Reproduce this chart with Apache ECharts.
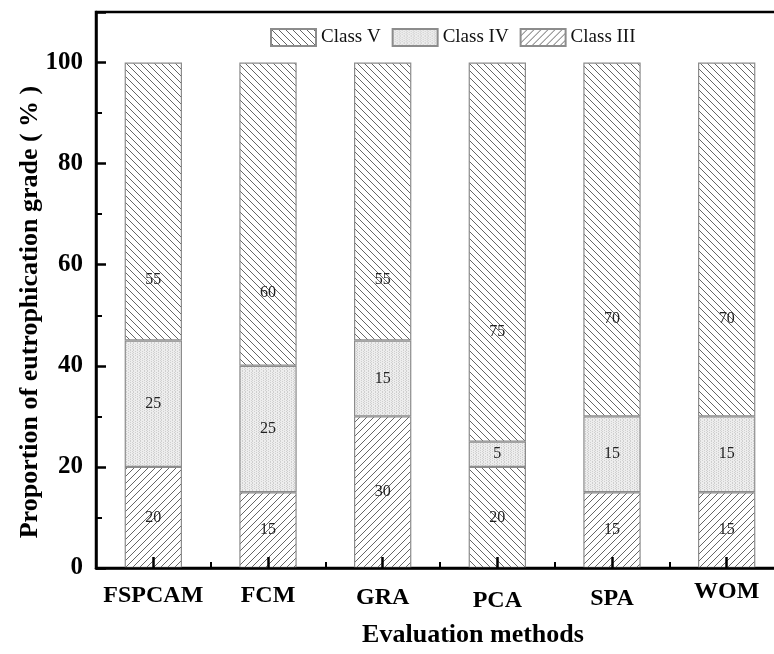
<!DOCTYPE html>
<html>
<head>
<meta charset="utf-8">
<script src="https://cdn.jsdelivr.net/npm/echarts@6/dist/echarts.min.js"></script>
<style>
html,body{margin:0;padding:0;background:#fff;}
#main{width:774px;height:654px;}
</style>
</head>
<body>
<div id="main"></div>
<script>
const categories = ['FSPCAM', 'FCM', 'GRA', 'PCA', 'SPA', 'WOM'];
const classIII = [20, 15, 30, 20, 15, 15];
const classIV = [25, 25, 15, 5, 15, 15];
const classV = [55, 60, 55, 75, 70, 70];
const yTicks = [0, 20, 40, 60, 80, 100];

function makePattern(kind) {
  const s = 7;
  const c = document.createElement('canvas');
  c.width = s; c.height = s;
  const ctx = c.getContext('2d');
  if (kind === 'dots') {
    ctx.fillStyle = '#ededed'; ctx.fillRect(0, 0, s, s);
    ctx.fillStyle = '#cfcfcf';
    for (let x = 0; x < s; x += 2) for (let y = (x / 2) % 2; y < s; y += 2) ctx.fillRect(x, y, 1, 1);
    return { image: c, repeat: 'repeat' };
  }
  ctx.fillStyle = '#ffffff'; ctx.fillRect(0, 0, s, s);
  ctx.strokeStyle = '#555555'; ctx.lineWidth = 0.9;
  ctx.beginPath();
  for (let k = -1; k <= 1; k++) {
    if (kind === 'back') { ctx.moveTo(-1, -1 + k * s); ctx.lineTo(s + 1, s + 1 + k * s); }
    else { ctx.moveTo(-1, s + 1 + k * s); ctx.lineTo(s + 1, -1 + k * s); }
  }
  ctx.stroke();
  return { image: c, repeat: 'repeat' };
}

const backPat = makePattern('back');
const fwdPat = makePattern('fwd');
const dotPat = makePattern('dots');

const font = 'Liberation Serif';
const borderStyle = { borderColor: '#8c8c8c', borderWidth: 1.2 };
const classVLabelY = ['78%', '76%', '78%', '71%', '72.5%', '72.5%'];
const xLabelPad = [4, 4, 6, 9, 7, 0];

const labelStyle = { show: true, fontFamily: font, fontSize: 16, color: '#222' };

const chart = echarts.init(document.getElementById('main'));
chart.setOption({
  animation: false,
  backgroundColor: '#fff',
  grid: { left: 96, top: 12, width: 688, height: 556, outerBoundsMode: 'none', containLabel: false, show: true, borderColor: '#000', borderWidth: 2.5, backgroundColor: 'transparent' },
  legend: {
    data: ['Class V', 'Class IV', 'Class III'],
    left: 270, top: 28, padding: 0, itemWidth: 45, itemHeight: 17, itemGap: 11, icon: 'rect',
    textStyle: { fontFamily: font, fontSize: 19, color: '#111' }
  },
  xAxis: [{
    type: 'category', data: categories, z: 10,
    axisLine: { lineStyle: { color: '#000', width: 2.5 } },
    axisTick: { show: true, inside: true, alignWithLabel: true, length: 11, lineStyle: { color: '#000', width: 2.5 } },
    axisLabel: {
      margin: 12, color: '#000',
      formatter: (v, i) => '{l' + i + '|' + v + '}',
      rich: Object.fromEntries(xLabelPad.map((p, i) => ['l' + i, { fontFamily: font, fontSize: 24, fontWeight: 'bold', color: '#000', padding: [p, 0, 0, 0] }]))
    },
    name: 'Evaluation methods', nameLocation: 'middle', nameGap: 54,
    nameTextStyle: { fontFamily: font, fontSize: 26, fontWeight: 'bold', color: '#000', padding: [0, 0, 0, 66] }
  }, {
    type: 'category', data: categories, position: 'bottom', z: 10,
    axisLine: { show: false },
    axisTick: { show: true, inside: true, length: 6, lineStyle: { color: '#000', width: 2 } },
    axisLabel: { show: false }
  }],
  yAxis: {
    type: 'value', min: yTicks[0], max: 110, interval: 20, z: 10,
    axisLine: { show: true, lineStyle: { color: '#000', width: 2.5 } },
    axisTick: { show: true, inside: true, length: 10, lineStyle: { color: '#000', width: 2.5 } },
    minorTick: { show: true, splitNumber: 2, length: 6, lineStyle: { color: '#000', width: 2 } },
    splitLine: { show: false },
    axisLabel: {
      margin: 13, showMaxLabel: false, fontFamily: font, fontSize: 25, fontWeight: 'bold', color: '#000',
      formatter: v => (yTicks.indexOf(v) >= 0 ? String(v) : '')
    },
    name: 'Proportion of eutrophication grade ( % )', nameLocation: 'middle', nameGap: 53, nameRotate: 90,
    nameMoveOverlap: false,
    nameTextStyle: { fontFamily: font, fontSize: 26, fontWeight: 'bold', color: '#000', padding: [0, 44, 0, 0] }
  },
  series: [
    {
      name: 'Class III', type: 'bar', stack: 'total', barWidth: '50%',
      itemStyle: Object.assign({ color: fwdPat }, borderStyle),
      label: Object.assign({ position: 'inside' }, labelStyle),
      data: classIII.map((v, i) => i === 3 ? { value: v, itemStyle: { color: backPat } } : v)
    },
    {
      name: 'Class IV', type: 'bar', stack: 'total', barWidth: '50%',
      itemStyle: Object.assign({ color: dotPat }, borderStyle),
      label: Object.assign({ position: 'inside' }, labelStyle),
      data: classIV
    },
    {
      name: 'Class V', type: 'bar', stack: 'total', barWidth: '50%',
      itemStyle: Object.assign({ color: backPat }, borderStyle),
      label: Object.assign({ position: 'inside' }, labelStyle),
      data: classV.map((v, i) => ({ value: v, label: { position: ['50%', classVLabelY[i]], align: 'center', verticalAlign: 'middle' } }))
    }
  ]
});
</script>
</body>
</html>
